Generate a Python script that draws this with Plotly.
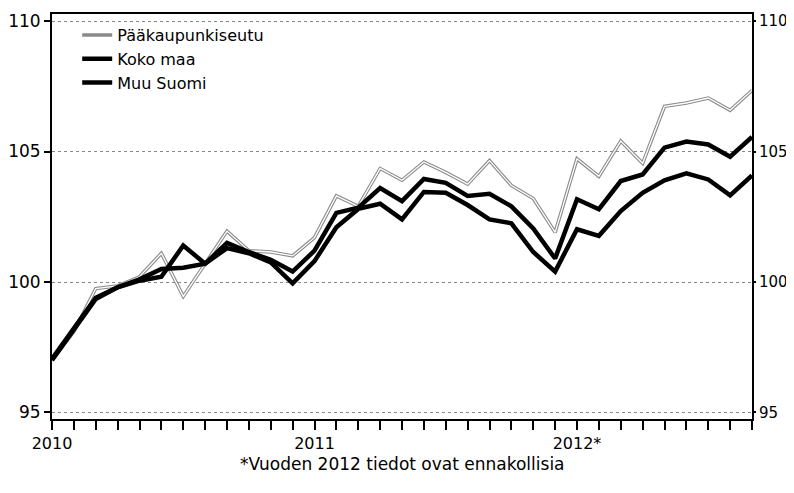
import plotly.graph_objects as go

months = list(range(33))  # Jan 2010 .. Sep 2012
year_labels = {0: "2010", 12: "2011", 24: "2012*"}

paakaupunkiseutu = [97.0, 98.1, 99.75, 99.85, 100.2, 101.1, 99.45, 100.7, 101.95, 101.2, 101.15, 101.0,
                    101.7, 103.3, 102.9, 104.35, 103.9, 104.6, 104.2, 103.75, 104.65, 103.7, 103.2, 101.9,
                    104.72, 104.05, 105.4, 104.55, 106.73, 106.86, 107.05, 106.58, 107.34]
koko_maa = [97.05, 98.2, 99.4, 99.8, 100.1, 100.5, 100.55, 100.7, 101.5, 101.15, 100.85, 100.4,
            101.2, 102.65, 102.85, 103.6, 103.1, 103.95, 103.8, 103.3, 103.38, 102.9, 102.05, 100.9,
            103.17, 102.79, 103.87, 104.12, 105.15, 105.38, 105.27, 104.8, 105.56]
muu_suomi = [97.0, 98.2, 99.35, 99.8, 100.05, 100.2, 101.4, 100.7, 101.3, 101.1, 100.75, 99.95,
             100.8, 102.1, 102.8, 103.0, 102.4, 103.45, 103.42, 102.95, 102.4, 102.25, 101.15, 100.4,
             102.02, 101.77, 102.72, 103.42, 103.9, 104.16, 103.93, 103.32, 104.08]

y_ticks = [95, 100, 105, 110]
footnote = "*Vuoden 2012 tiedot ovat ennakollisia"

FONT = "DejaVu Sans"
FS = 16
Y_RANGE = [94.75, 110.27]

fig = go.Figure()
fig.add_trace(go.Scatter(x=months, y=paakaupunkiseutu, mode="lines", name="Pääkaupunkiseutu",
                         line=dict(color="#8a8a8a", width=3.5), legendgroup="pk"))
fig.add_trace(go.Scatter(x=months, y=paakaupunkiseutu, mode="lines", name="Pääkaupunkiseutu",
                         line=dict(color="white", width=1.3), legendgroup="pk", showlegend=False,
                         hoverinfo="skip"))
fig.add_trace(go.Scatter(x=months, y=koko_maa, mode="lines", name="Koko maa",
                         line=dict(color="black", width=4.5)))
fig.add_trace(go.Scatter(x=months, y=muu_suomi, mode="lines", name="Muu Suomi",
                         line=dict(color="black", width=4.5)))
# invisible copy on the right-hand axis so that it is drawn
fig.add_trace(go.Scatter(x=months, y=koko_maa, mode="lines", yaxis="y2", showlegend=False,
                         hoverinfo="skip", line=dict(color="rgba(0,0,0,0)", width=0)))

ticktext = [year_labels.get(m, "") for m in months]

fig.update_layout(
    width=786, height=485,
    margin=dict(l=44, r=42, t=6, b=74),
    paper_bgcolor="white", plot_bgcolor="white",
    font=dict(family=FONT, size=FS, color="black"),
    showlegend=True,
    legend=dict(x=0.036, y=0.99, xanchor="left", yanchor="top",
                bgcolor="rgba(0,0,0,0)", font=dict(size=FS, family=FONT),
                itemwidth=30, tracegroupgap=0),
    xaxis=dict(range=[0, 32], tickmode="array", tickvals=months, ticktext=ticktext,
               ticks="outside", ticklen=9, tickwidth=1.5, tickcolor="black",
               showline=True, linecolor="black", linewidth=2, mirror=True,
               showgrid=False, zeroline=False, tickangle=0, automargin=False,
               tickfont=dict(size=FS, family=FONT)),
    yaxis=dict(range=Y_RANGE, tickmode="array", tickvals=y_ticks,
               ticks="outside", ticklen=6, tickwidth=1.5, tickcolor="black",
               showline=True, linecolor="black", linewidth=2, mirror=True,
               showgrid=True, gridcolor="#888", griddash="dot", gridwidth=1,
               zeroline=False, automargin=False, tickfont=dict(size=17, family=FONT)),
    yaxis2=dict(range=Y_RANGE, tickmode="array", tickvals=y_ticks,
                overlaying="y", side="right", anchor="x",
                ticks="outside", ticklen=3, tickwidth=1.5, tickcolor="black",
                showline=False, showgrid=False, zeroline=False, automargin=False,
                tickfont=dict(size=15, family=FONT)),
)

fig.add_annotation(text=footnote, xref="paper", yref="paper", x=0.5, y=-0.11,
                   xanchor="center", yanchor="middle", showarrow=False,
                   font=dict(size=17, family=FONT))

fig.write_html("out.html")
